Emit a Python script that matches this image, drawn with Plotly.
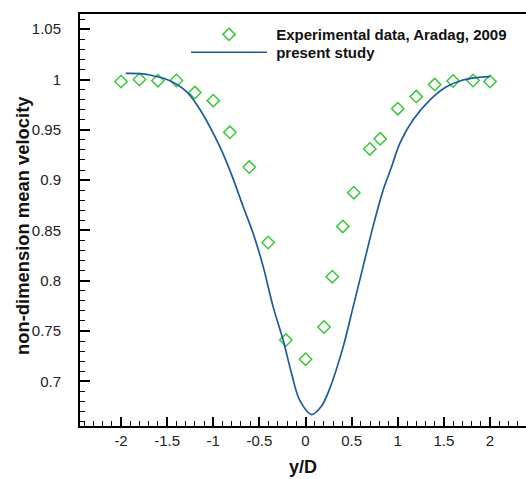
import plotly.graph_objects as go

# Experimental data (Aradag, 2009)
exp_x = [-2.0, -1.8, -1.6, -1.4, -1.2, -1.0, -0.82, -0.61, -0.405, -0.213, 0.0,
         0.2, 0.29, 0.404, 0.523, 0.697, 0.809, 1.0, 1.2, 1.4, 1.6, 1.816, 2.0]
exp_y = [0.998, 1.000, 0.9988, 0.999, 0.987, 0.979, 0.9475, 0.913, 0.838, 0.741, 0.722,
         0.754, 0.804, 0.854, 0.8875, 0.931, 0.941, 0.971, 0.983, 0.995, 0.9985, 0.999, 0.998]

# Present study (numerical profile)
sim_x = [-1.95, -1.8, -1.687, -1.47, -1.29, -1.13, -0.928, -0.8, -0.676, -0.568, -0.459,
         -0.351, -0.243, -0.152, -0.062, 0.065, 0.17, 0.263, 0.407, 0.516, 0.624, 0.732,
         0.841, 0.932, 1.022, 1.166, 1.347, 1.528, 1.707, 1.888, 2.0]
sim_y = [1.006, 1.0058, 1.0045, 0.9988, 0.9879, 0.968, 0.933, 0.905, 0.8736, 0.847, 0.814,
         0.774, 0.741, 0.708, 0.681, 0.667, 0.675, 0.693, 0.734, 0.774, 0.814, 0.854,
         0.890, 0.913, 0.9366, 0.960, 0.9796, 0.9928, 0.9995, 1.0022, 1.0028]

x_ticks = [-2, -1.5, -1, -0.5, 0, 0.5, 1, 1.5, 2]
x_ticktext = ["-2", "-1.5", "-1", "-0.5", "0", "0.5", "1", "1.5", "2"]
y_ticks = [0.7, 0.75, 0.8, 0.85, 0.9, 0.95, 1.0, 1.05]
y_ticktext = ["0.7", "0.75", "0.8", "0.85", "0.9", "0.95", "1", "1.05"]

FONT = "Liberation Sans, Arial, sans-serif"

fig = go.Figure()
fig.add_trace(go.Scatter(
    x=exp_x, y=exp_y, mode="markers", name=" Experimental data, Aradag, 2009",
    marker=dict(symbol="diamond-open", size=9.5, color="#38c838", line=dict(width=1.5, color="#38c838")),
    legend="legend",
))
fig.add_trace(go.Scatter(
    x=sim_x, y=sim_y, mode="lines", name=" present study",
    line=dict(color="#1c5b9c", width=1.7, shape="spline", smoothing=1.0),
    legend="legend2",
))

axis_font = dict(family=FONT, size=15, color="#222")
legend_font = dict(family=FONT, size=15, color="#111", weight="bold")
fig.update_layout(
    width=526, height=479,
    margin=dict(l=80, r=0, t=14, b=53),
    paper_bgcolor="white", plot_bgcolor="white",
    showlegend=True,
    legend=dict(
        x=0.2377, y=0.990, xanchor="left", yanchor="top",
        bgcolor="rgba(0,0,0,0)", itemwidth=76, font=legend_font,
    ),
    legend2=dict(
        x=0.2377, y=0.9466, xanchor="left", yanchor="top",
        bgcolor="rgba(0,0,0,0)", itemwidth=76, font=legend_font,
    ),
    xaxis=dict(
        range=[-2.445, 2.39], showgrid=False, zeroline=False,
        showline=True, linecolor="black", linewidth=2, mirror=True,
        tickvals=x_ticks, ticktext=x_ticktext,
        ticks="inside", ticklen=9, tickwidth=2, tickcolor="black",
        minor=dict(dtick=0.1, tick0=0, ticks="inside", ticklen=5, tickwidth=1, tickcolor="black", showgrid=False),
        tickfont=axis_font,
        title=dict(text="y/D", font=dict(family=FONT, size=18, color="#111", weight="bold"), standoff=12),
    ),
    yaxis=dict(
        range=[0.6556, 1.0651], showgrid=False, zeroline=False,
        showline=True, linecolor="black", linewidth=2,
        tickvals=y_ticks, ticktext=y_ticktext,
        ticks="inside", ticklen=10, tickwidth=2, tickcolor="black",
        minor=dict(dtick=0.01, tick0=0, ticks="inside", ticklen=5, tickwidth=1, tickcolor="black", showgrid=False),
        tickfont=axis_font, ticklabelstandoff=14,
    ),
    annotations=[dict(
        text="non-dimension mean velocity", textangle=-90,
        xref="paper", yref="paper", x=-0.130, y=0.4854,
        xanchor="center", yanchor="middle", showarrow=False,
        font=dict(family=FONT, size=18.4, color="#111", weight="bold"),
    )],
)

fig.write_html("out.html")
